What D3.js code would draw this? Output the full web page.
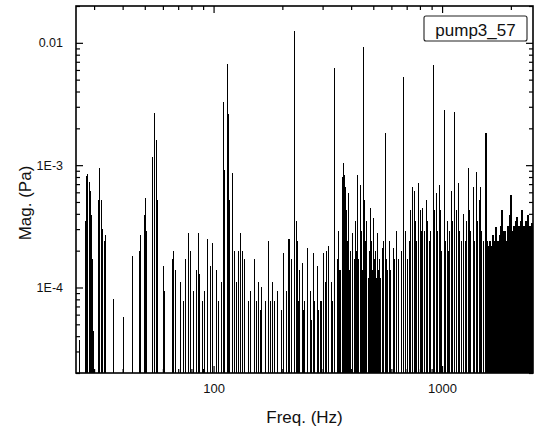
<!DOCTYPE html>
<html>
<head>
<meta charset="utf-8">
<title>pump3_57 spectrum</title>
<script src="https://cdn.jsdelivr.net/npm/d3@7"></script>
<style>
body { margin: 0; background: #fff; }
text { font-family: "Liberation Sans", Arial, sans-serif; fill: #111; }
</style>
</head>
<body>
<script>

// spectrum: [frequency Hz, magnitude Pa]
var harmonicPeaks = [
	[28.2, 8.4e-4], [31.8, 9.5e-4], [55.4, 2.67e-3], [111, 3.3e-3], [115.6, 6.7e-3],
	[225, 1.25e-2], [337, 6.2e-3], [451, 9.3e-3], [563, 1.83e-3], [681, 5.3e-3],
	[913, 6.6e-3], [1020, 2.8e-3], [1128, 2.7e-3], [1556, 1.83e-3]
];

var lowBand = [
	[25.8, 3.7e-5], [27.4, 3.5e-4], [27.7, 8.1e-4], [28.5, 7.3e-4], [28.8, 6.2e-4], [29.1, 3.9e-4],
	[29.4, 1.7e-4], [29.7, 4.4e-5], [31.5, 5.2e-4], [32.2, 5.2e-4], [32.5, 3.0e-4], [33.2, 2.4e-4],
	[33.5, 2.7e-4], [33.8, 1.7e-4], [36.3, 8.1e-5], [40.2, 5.7e-5], [44.0, 1.4e-4], [44.4, 1.8e-4],
	[47.2, 2.0e-4], [47.7, 2.7e-4], [48.1, 1.7e-4], [50.1, 3.9e-4], [50.6, 5.4e-4], [51.1, 2.9e-4],
	[53.8, 6.2e-4], [54.3, 1.16e-3], [54.9, 1.9e-3], [56.0, 1.6e-3], [56.6, 5.2e-4],
	[60.1, 1.5e-4], [60.7, 9.4e-5], [65.8, 1.7e-4], [67.1, 2.0e-4], [67.8, 1.4e-4], [71.3, 1.1e-4]
];

var midBand = [
	[73.5, 7.8e-5], [75.7, 1.7e-4], [77.3, 2.8e-4], [78.9, 2.0e-4], [81.3, 9.4e-5], [83.8, 1.4e-4],
	[85.5, 2.8e-4], [87.2, 1.3e-4], [89.0, 7.8e-5], [91.7, 9.4e-5], [94.5, 2.5e-4], [96.5, 1.5e-4],
	[99.4, 2.3e-4], [102.5, 1.4e-4], [105.6, 7.8e-5], [107.8, 1.1e-4], [110.0, 1.6e-3], [112.2, 9.1e-4],
	[114.5, 2.6e-3], [116.8, 2.6e-3], [118.0, 5.2e-4], [121.6, 8.6e-4], [124.1, 2.0e-4], [126.6, 1.1e-4],
	[129.2, 2.0e-4], [131.8, 2.8e-4], [134.5, 2.0e-4], [137.2, 1.7e-4], [141.5, 7.8e-5], [145.8, 9.4e-5],
	[150.3, 1.7e-4], [153.4, 7.8e-5], [156.5, 1.1e-4], [159.7, 6.5e-5], [162.9, 1.0e-4], [168.0, 7.8e-5],
	[173.1, 2.4e-4], [176.6, 7.8e-5], [182.0, 1.1e-4], [185.7, 7.8e-5], [191.4, 9.4e-5], [197.3, 6.5e-5],
	[203.3, 1.9e-4], [207.5, 9.4e-5], [213.8, 2.5e-4]
];

var upperBand = [
	[216.0, 2.5e-4], [220.4, 1.7e-4], [231.8, 3.5e-4], [234.1, 2.4e-4], [236.5, 7.8e-5], [238.9, 1.4e-4],
	[243.8, 9.4e-5], [246.2, 1.6e-4], [248.7, 6.5e-5], [251.2, 7.8e-5], [258.9, 2.1e-4], [264.3, 9.4e-5],
	[267.0, 5.4e-5], [272.4, 1.9e-4], [277.9, 7.8e-5], [283.6, 1.5e-4], [286.5, 6.5e-5], [292.3, 7.8e-5],
	[295.3, 7.8e-5], [301.3, 1.9e-4], [307.4, 1.1e-4], [310.5, 2.0e-4], [316.8, 9.4e-5], [320.0, 2.2e-4],
	[326.6, 1.1e-4], [329.9, 7.8e-5], [346.9, 1.7e-4], [350.4, 2.9e-4], [354.0, 1.1e-4], [357.5, 1.4e-4],
	[361.1, 1.4e-4], [364.8, 8.0e-4], [368.5, 3.0e-4], [372.2, 1.04e-3], [375.9, 8.3e-4], [379.8, 6.6e-4],
	[383.6, 4.3e-4], [387.5, 2.4e-4], [391.4, 5.9e-4], [395.4, 1.4e-4], [399.4, 2.0e-4], [403.5, 1.2e-4],
	[407.5, 2.8e-4], [411.7, 1.6e-4], [415.8, 1.7e-4], [420.0, 3.5e-4], [424.3, 2.0e-4], [428.6, 8.3e-4],
	[432.9, 1.7e-4], [437.4, 6.9e-4], [441.8, 2.9e-4], [446.3, 1.4e-4], [455.4, 5.2e-4], [460.0, 2.4e-4],
	[464.7, 1.7e-4], [469.3, 3.5e-4], [474.1, 1.2e-4], [478.9, 2.0e-4], [483.7, 2.0e-4], [488.6, 4.5e-4],
	[493.5, 2.4e-4], [498.5, 1.4e-4], [503.6, 3.7e-4], [508.7, 1.7e-4], [513.8, 2.0e-4], [519.0, 1.2e-4],
	[524.3, 2.8e-4], [529.6, 1.4e-4], [535.0, 1.7e-4], [540.4, 1.2e-4], [545.9, 2.1e-4], [551.4, 1.4e-4],
	[557.0, 2.4e-4], [568.3, 1.2e-4], [574.1, 1.7e-4], [579.9, 1.4e-4], [585.8, 2.4e-4], [591.7, 1.0e-4],
	[597.7, 1.4e-4]
];

var highBand = [
	[609.9, 2.1e-4], [616.0, 1.7e-4], [622.2, 1.7e-4], [634.9, 2.9e-4], [647.8, 1.7e-4], [661.1, 2.0e-4],
	[688.3, 2.9e-4], [702.3, 1.7e-4], [716.6, 2.4e-4], [731.1, 4.3e-4], [738.6, 6.6e-4], [746.0, 5.2e-4],
	[761.2, 6.2e-4], [768.9, 3.5e-4], [776.6, 2.4e-4], [792.4, 7.1e-4], [800.6, 4.3e-4], [808.7, 2.9e-4],
	[825.1, 4.5e-4], [841.9, 2.9e-4], [859.0, 5.2e-4], [867.8, 3.5e-4], [885.4, 2.4e-4], [894.3, 2.9e-4],
	[921.8, 3.5e-4], [931.1, 4.3e-4], [950.0, 5.9e-4], [959.7, 2.9e-4], [979.3, 6.9e-4], [989.2, 4.3e-4],
	[999.2, 2.0e-4], [1030, 2.4e-4], [1051, 3.5e-4], [1062, 2.0e-4], [1083, 2.9e-4], [1105, 6.2e-4],
	[1116, 3.5e-4], [1139, 2.9e-4], [1162, 4.3e-4], [1186, 7.1e-4], [1198, 2.9e-4], [1222, 2.4e-4],
	[1235, 4.0e-4], [1260, 2.4e-4], [1273, 3.5e-4], [1299, 9.5e-4], [1312, 4.3e-4], [1338, 2.9e-4],
	[1366, 6.6e-4], [1379, 3.5e-4], [1393, 2.4e-4], [1421, 8.8e-4], [1436, 3.5e-4], [1451, 5.2e-4],
	[1480, 6.6e-4], [1495, 2.9e-4], [1525, 2.4e-4], [1572, 2.4e-4], [1588, 2.0e-4], [1604, 2.2e-4],
	[1621, 2.4e-4], [1637, 2.0e-4], [1654, 2.2e-4], [1671, 2.7e-4], [1688, 2.0e-4], [1705, 2.4e-4],
	[1722, 3.1e-4], [1739, 2.2e-4], [1757, 2.4e-4], [1775, 2.0e-4], [1793, 2.7e-4], [1811, 3.2e-4],
	[1830, 4.3e-4], [1848, 2.4e-4], [1867, 2.9e-4], [1885, 2.9e-4], [1905, 2.0e-4], [1924, 2.4e-4],
	[1943, 3.2e-4], [1963, 2.7e-4], [1983, 3.9e-4], [2003, 5.7e-4], [2024, 2.9e-4], [2044, 2.4e-4],
	[2065, 3.2e-4], [2085, 2.7e-4], [2107, 3.5e-4], [2128, 3.75e-4], [2150, 2.7e-4], [2171, 3.2e-4],
	[2193, 2.4e-4], [2215, 3.5e-4], [2238, 4.3e-4], [2260, 2.9e-4], [2283, 3.2e-4], [2306, 2.4e-4],
	[2330, 3.5e-4], [2353, 2.9e-4], [2377, 3.9e-4], [2401, 2.7e-4], [2425, 3.2e-4], [2450, 2.4e-4],
	[2474, 3.35e-4]
];

var xDomain = [25, 2500];
var yDomain = [2e-5, 0.02];
var xMajorTicks = [100, 1000];
var xTickLabels = ["100", "1000"];
var yMajorTicks = [1e-4, 1e-3, 1e-2];
var yTickLabels = ["1E-4", "1E-3", "0.01"];
var legendLabel = "pump3_57";


var margin = {top: 6, right: 3, bottom: 58, left: 76};
var width = 536 - margin.left - margin.right,
	height = 431 - margin.top - margin.bottom;

var base = d3.select("body").append("svg")
	.attr("width", 536)
	.attr("height", 431);

var svg = base.append("g").attr("transform", "translate(" + margin.left + "," + margin.top + ")");

var xScale = d3.scaleLog().domain(xDomain).range([0, width]);
var yScale = d3.scaleLog().domain(yDomain).range([height, 0]);

svg.append("clipPath").attr("id", "plotclip")
	.append("rect").attr("width", width).attr("height", height);

var plot = svg.append("g")
	.attr("clip-path", "url(#plotclip)")
	.attr("shape-rendering", "crispEdges");

// every sample drawn as a stick up from the floor of the plot;
// above ~1.5 kHz the scan is solid black, so the pen is wider there
function sticks(data) {
	plot.append("g")
		.selectAll("line")
		.data(data)
		.join("line")
		.attr("x1", d => xScale(d[0]))
		.attr("x2", d => xScale(d[0]))
		.attr("y1", height)
		.attr("y2", d => yScale(Math.max(d[1], yDomain[0])))
		.attr("stroke", "#000")
		.attr("stroke-width", d => d[0] > 1540 ? 2 : 1);
}
sticks(lowBand);
sticks(midBand);
sticks(upperBand);
sticks(highBand);
sticks(harmonicPeaks);

var isDecade = v => Math.abs(Math.log10(v) - Math.round(Math.log10(v))) < 1e-6;
var xMinor = xScale.ticks().filter(v => !isDecade(v));
var yMinor = yScale.ticks().filter(v => !isDecade(v));

function styleAxis(sel) {
	sel.select(".domain").remove();
	sel.selectAll(".tick line").attr("stroke", "#000").attr("stroke-width", 1.2);
	sel.selectAll("text").attr("fill", "#111").attr("font-family", '"Liberation Sans", Arial, sans-serif');
}

// bottom
svg.append("g").attr("transform", "translate(0," + height + ")")
	.call(d3.axisBottom(xScale).tickValues(xMajorTicks).tickSize(-7).tickPadding(11)
		.tickFormat((d, i) => xTickLabels[i]))
	.call(styleAxis)
	.selectAll("text").attr("font-size", 13);
svg.append("g").attr("transform", "translate(0," + height + ")")
	.call(d3.axisBottom(xScale).tickValues(xMinor).tickSize(-4).tickFormat(""))
	.call(styleAxis);

// top
svg.append("g")
	.call(d3.axisTop(xScale).tickValues(xMajorTicks).tickSize(-7).tickFormat(""))
	.call(styleAxis);
svg.append("g")
	.call(d3.axisTop(xScale).tickValues(xMinor).tickSize(-4).tickFormat(""))
	.call(styleAxis);

// left
svg.append("g")
	.call(d3.axisLeft(yScale).tickValues(yMajorTicks).tickSize(-7).tickPadding(13)
		.tickFormat((d, i) => yTickLabels[i]))
	.call(styleAxis)
	.selectAll("text").attr("font-size", 12.5);
svg.append("g")
	.call(d3.axisLeft(yScale).tickValues(yMinor).tickSize(-4).tickFormat(""))
	.call(styleAxis);

// right
svg.append("g").attr("transform", "translate(" + width + ",0)")
	.call(d3.axisRight(yScale).tickValues(yMajorTicks).tickSize(-7).tickFormat(""))
	.call(styleAxis);
svg.append("g").attr("transform", "translate(" + width + ",0)")
	.call(d3.axisRight(yScale).tickValues(yMinor).tickSize(-4).tickFormat(""))
	.call(styleAxis);

// frame
svg.append("rect")
	.attr("width", width).attr("height", height)
	.attr("fill", "none").attr("stroke", "#000").attr("stroke-width", 1.6);

// legend box
svg.append("rect")
	.attr("x", 348).attr("y", 10).attr("width", 103).attr("height", 25).attr("rx", 2)
	.attr("fill", "#fff").attr("stroke", "#222").attr("stroke-width", 1.1);
svg.append("text")
	.attr("x", 399.5).attr("y", 30)
	.attr("text-anchor", "middle")
	.attr("font-size", 17)
	.text(legendLabel);

// axis titles
base.append("text")
	.attr("x", margin.left + width / 2)
	.attr("y", 423)
	.attr("text-anchor", "middle")
	.attr("font-size", 17)
	.text("Freq. (Hz)");

base.append("text")
	.attr("transform", "translate(31,203) rotate(-90)")
	.attr("text-anchor", "middle")
	.attr("font-size", 17)
	.text("Mag. (Pa)");

</script>
</body>
</html>
